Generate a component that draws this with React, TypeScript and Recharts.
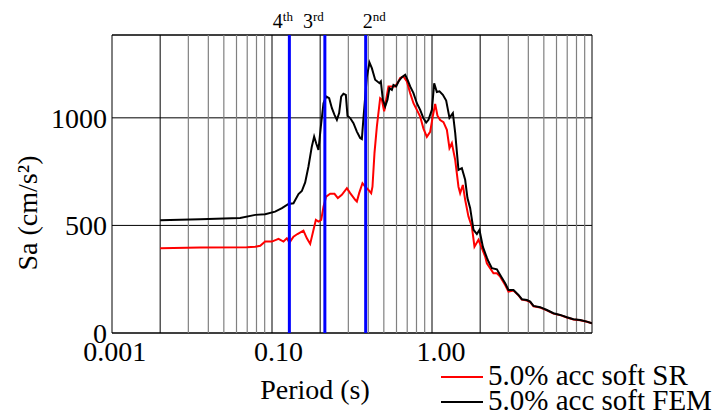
import React from 'react';
import {
  LineChart,
  Line,
  XAxis,
  YAxis,
  CartesianGrid,
  ReferenceLine,
  ReferenceArea,
  Legend,
} from 'recharts';

const FONT = '"Liberation Serif", "Times New Roman", Times, serif';

// ---- data ----
const srPeriods = [
  0.01, 0.0178, 0.0348, 0.0393, 0.0422, 0.0453, 0.0499, 0.0549, 0.059, 0.0619,
  0.0643, 0.0681, 0.0721, 0.0786, 0.0826, 0.0866, 0.0908, 0.094, 0.0976, 0.1015,
  0.1049, 0.109, 0.1155, 0.1229, 0.129, 0.1366, 0.1469, 0.154, 0.1655, 0.1696,
  0.1753, 0.1838, 0.1911, 0.2004, 0.2084, 0.2123, 0.2185, 0.2262, 0.2371, 0.243,
  0.2512, 0.2585, 0.2672, 0.2806, 0.2943, 0.3086, 0.3162, 0.3316, 0.3483, 0.3652,
  0.3829, 0.4021, 0.4217, 0.4422, 0.4644, 0.487, 0.5064, 0.5234, 0.5409, 0.5623,
  0.5897, 0.6193, 0.6429, 0.6655, 0.6981, 0.7318, 0.7499, 0.7796, 0.8058, 0.8451,
  0.8874, 0.9214, 0.9759, 1.025, 1.075, 1.101, 1.211, 1.272, 1.334, 1.433,
  1.503, 1.615, 1.735, 1.822, 1.959, 2.054, 2.154, 2.371, 2.612, 2.871,
  3.162, 3.483, 3.829, 4.217, 4.644, 5.0,
];
const srSa = [
  394, 397, 399, 401, 405, 425, 425, 438, 425, 440,
  420, 448, 460, 476, 440, 414, 479, 526, 518, 526,
  587, 634, 647, 647, 627, 642, 673, 650, 619, 611,
  650, 696, 680, 665, 650, 680, 836, 960, 1091, 1084,
  1030, 1084, 1146, 1146, 1146, 1169, 1185, 1192, 1169, 1115,
  1068, 1037, 1006, 950, 912, 935, 1010, 1065, 1010, 990,
  980, 944, 859, 882, 805, 680, 650, 688, 619, 541,
  494, 401, 433, 394, 355, 324, 278, 278, 262, 223,
  192, 197, 175, 155, 151, 144, 124, 118, 105, 90,
  83, 72, 63, 59, 52, 45,
];

const femPeriods = [
  0.01, 0.0178, 0.0316, 0.0393, 0.0453, 0.0523, 0.0577, 0.0634, 0.0681, 0.0732,
  0.0768, 0.0806, 0.0845, 0.0887, 0.0917, 0.0944, 0.0976, 0.101, 0.1049, 0.109,
  0.1138, 0.1184, 0.1229, 0.1272, 0.1314, 0.1353, 0.1398, 0.1447, 0.1482, 0.154,
  0.1615, 0.1696, 0.1778, 0.1822, 0.1865, 0.1959, 0.2033, 0.2104, 0.2207, 0.2348,
  0.2395, 0.2465, 0.2548, 0.2634, 0.2711, 0.2806, 0.2871, 0.2985, 0.3086, 0.3241,
  0.3398, 0.3513, 0.3652, 0.3829, 0.4021, 0.4217, 0.4422, 0.4597, 0.4752, 0.4991,
  0.516, 0.5363, 0.5569, 0.5846, 0.6131, 0.6429, 0.6752, 0.6981, 0.7318, 0.7684,
  0.8058, 0.8329, 0.866, 0.9081, 0.9537, 0.99, 1.04, 1.101, 1.127, 1.184,
  1.272, 1.334, 1.433, 1.503, 1.615, 1.735, 1.822, 1.959, 2.054, 2.154,
  2.371, 2.612, 2.871, 3.162, 3.483, 3.829, 4.217, 4.644, 5.0,
];
const femSa = [
  524, 529, 535, 549, 552, 564, 580, 600, 603, 646,
  660, 700, 774, 867, 913, 882, 851, 960, 1068, 1099,
  1091, 1045, 1014, 991, 1022, 1099, 1112, 1107, 1009, 999,
  975, 936, 906, 901, 1000, 1192, 1257, 1231, 1177, 1161,
  1169, 1084, 1053, 1084, 1138, 1130, 1153, 1146, 1169, 1189,
  1200, 1177, 1146, 1115, 1068, 1037, 998, 978, 991, 1037,
  1160, 1120, 1123, 1107, 1080, 1000, 1022, 930, 758, 766,
  712, 627, 580, 480, 460, 479, 400, 350, 332, 301,
  296, 270, 231, 200, 200, 177, 157, 153, 146, 126,
  120, 107, 92, 84, 73, 64, 60, 53, 45,
];

const xTickValues = [0.0052, 0.055, 0.57];
const xTickLabels = ['0.001', '0.10', '1.00'];
const yTickValues = [0, 500, 1000];

const gridMajor = [0.01, 0.05, 0.1, 0.5, 1];
const gridMinor = [
  0.015, 0.02, 0.025, 0.03, 0.035, 0.04, 0.045,
  0.15, 0.2, 0.25, 0.3, 0.35, 0.4, 0.45,
  1.5, 2, 2.5, 3, 3.5, 4, 4.5,
];

const modePeriods = [0.0642, 0.107, 0.1925];
const modeNumbers = ['4', '3', '2'];
const modeSuffixes = ['th', 'rd', 'nd'];

const seriesNames = ['5.0% acc soft SR', '5.0% acc soft FEM'];

const srData = srPeriods.map((p, i) => ({ p, sa: srSa[i] }));
const femData = femPeriods.map((p, i) => ({ p, sa: femSa[i] }));

// label shifts for mode markers (style only)
const modeLabelShift = [-6.5, -11.5, 8.5];

const ModeLabel = (props: any) => {
  const { viewBox, idx } = props;
  if (!viewBox) return null;
  const cx = viewBox.x + modeLabelShift[idx];
  const y = viewBox.y - 7;
  return (
    <text x={cx} y={y} textAnchor="middle" fontFamily={FONT} fontSize={20} fill="#000">
      {modeNumbers[idx]}
      <tspan fontSize={13} dy={-7}>
        {modeSuffixes[idx]}
      </tspan>
    </text>
  );
};

const LegendContent = (props: any) => {
  const payload = [...(props.payload || [])].sort(
    (a: any, b: any) => seriesNames.indexOf(a.value) - seriesNames.indexOf(b.value)
  );
  return (
    <svg width={276} height={56} style={{ display: 'block', overflow: 'visible' }}>
      {payload.map((entry: any, i: number) => (
        <g key={i}>
          <line x1={0} x2={42} y1={17 + i * 25} y2={17 + i * 25} stroke={entry.color} strokeWidth={2} />
          <text x={47} y={25 + i * 25} fontFamily={FONT} fontSize={29} fill="#000">
            {entry.value}
          </text>
        </g>
      ))}
    </svg>
  );
};

export default function App() {
  return (
    <div style={{ position: 'absolute', left: 0, top: 0, width: 719, height: 414, background: '#fff' }}>
      <LineChart
        width={719}
        height={414}
        margin={{ top: 35, right: 127, bottom: 0, left: 0 }}
      >
        <CartesianGrid vertical={false} stroke="#000" strokeWidth={1} />
        <XAxis
          type="number"
          dataKey="p"
          scale="log"
          domain={[0.005, 5]}
          allowDataOverflow
          ticks={xTickValues}
          interval={0}
          tickFormatter={(v: number) => {
            const i = xTickValues.indexOf(v);
            return i >= 0 ? xTickLabels[i] : '';
          }}
          axisLine={false}
          tickLine={false}
          height={81}
          tick={{ fill: '#000', fontSize: 28, fontFamily: FONT }}
          label={{
            content: (p: any) => {
              const vb = p.viewBox || { x: 112, y: 333, width: 480 };
              return (
                <text
                  x={vb.x + vb.width / 2 - 37}
                  y={vb.y + 66}
                  textAnchor="middle"
                  fontFamily={FONT}
                  fontSize={28}
                  fill="#000"
                >
                  Period (s)
                </text>
              );
            },
          }}
        />
        <YAxis
          type="number"
          domain={[0, 1385]}
          allowDataOverflow
          ticks={yTickValues}
          interval={0}
          width={112}
          axisLine={false}
          tickLine={false}
          tickSize={3}
          tickMargin={2}
          tick={{ fill: '#000', fontSize: 28, fontFamily: FONT }}
          label={{
            content: (p: any) => {
              const vb = p.viewBox || { x: 0, y: 35, width: 112, height: 298 };
              const cx = vb.x + 37;
              const cy = vb.y + vb.height / 2 + 29;
              return (
                <text
                  transform={`translate(${cx},${cy}) rotate(-90)`}
                  textAnchor="middle"
                  fontFamily={FONT}
                  fontSize={28}
                  fill="#000"
                >
                  Sa (cm/s²)
                </text>
              );
            },
          }}
        />
        {gridMinor.map((v) => (
          <ReferenceLine key={'mi' + v} x={v} stroke="#808080" strokeWidth={1.2} />
        ))}
        {gridMajor.map((v) => (
          <ReferenceLine key={'ma' + v} x={v} stroke="#000" strokeWidth={1} />
        ))}
        <Line
          data={srData}
          dataKey="sa"
          name={seriesNames[0]}
          type="linear"
          stroke="#ff0000"
          strokeWidth={2}
          dot={false}
          isAnimationActive={false}
        />
        <Line
          data={femData}
          dataKey="sa"
          name={seriesNames[1]}
          type="linear"
          stroke="#000000"
          strokeWidth={2}
          dot={false}
          isAnimationActive={false}
        />
        {modePeriods.map((v, i) => (
          <ReferenceLine
            key={'mode' + i}
            x={v}
            stroke="#0000ff"
            strokeWidth={3}
            label={<ModeLabel idx={i} />}
          />
        ))}
        <ReferenceArea x1={0.005} x2={5} y1={0} y2={1385} fill="none" stroke="#000" strokeWidth={1} ifOverflow="visible" />
        <Legend
          layout="horizontal"
          verticalAlign="middle"
          align="center"
          itemSorter={null as any}
          content={<LegendContent />}
          wrapperStyle={{ position: 'absolute', left: 441, top: 360, width: 276, height: 56 }}
        />
      </LineChart>
    </div>
  );
}
